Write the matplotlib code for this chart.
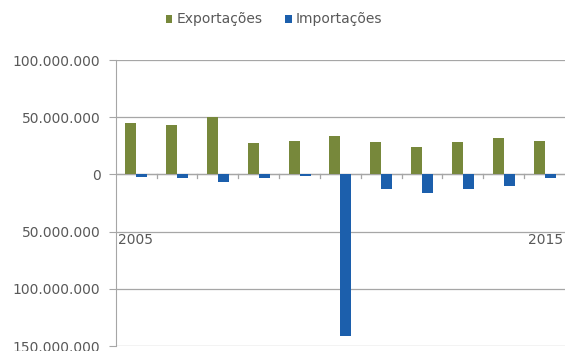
import numpy as np
import matplotlib.pyplot as plt
from matplotlib.ticker import FuncFormatter, MultipleLocator

anos = list(range(2005, 2016))
exportacoes = [45.0e6, 43.6e6, 50.3e6, 27.3e6, 28.8e6, 33.9e6, 28.6e6, 24.2e6, 28.2e6, 31.7e6, 29.5e6]
importacoes = [-2.5e6, -3.5e6, -6.5e6, -3.5e6, -1.2e6, -141.6e6, -13.0e6, -16.0e6, -12.5e6, -10.5e6, -3.5e6]

verde = '#77883b'
azul = '#1c5fac'
cinza = '#595959'
linha = '#a6a6a6'

plt.rcParams['font.family'] = ['DejaVu Sans']

fig = plt.figure(figsize=(5.65, 3.51), dpi=100)
ax = fig.add_axes([0.205, 0.014, 0.795, 0.815])

x = np.arange(len(anos))
w = 0.27
ax.bar(x - w / 2, exportacoes, width=w, color=verde, label='Exportações', zorder=3)
ax.bar(x + w / 2, importacoes, width=w, color=azul, label='Importações', zorder=3)

ax.set_xlim(-0.5, len(anos) - 0.5)
ax.set_ylim(-150e6, 100e6)
ax.yaxis.set_major_locator(MultipleLocator(50e6))
ax.yaxis.set_major_formatter(FuncFormatter(
    lambda v, p: '{:,.0f}'.format(abs(v)).replace(',', '.')))
ax.grid(axis='y', color=linha, linewidth=0.9, zorder=0)

for s in ['top', 'right', 'bottom']:
    ax.spines[s].set_visible(False)
ax.spines['left'].set_color(linha)
ax.tick_params(axis='y', colors=cinza, labelsize=10, length=5, color=linha, pad=6)

# eixo das categorias sobre o zero
ax.axhline(0, color=linha, linewidth=0.9, zorder=2)
ax.set_xticks([])
for b in np.arange(0.5, len(anos) - 0.5, 1):
    ax.plot([b, b], [0, -3.5e6], color=linha, linewidth=0.9, zorder=2)

ax.text(-0.45, -51e6, str(anos[0]), ha='left', va='top', color=cinza, fontsize=10)
ax.text(len(anos) - 0.55, -51e6, str(anos[-1]), ha='right', va='top', color=cinza, fontsize=10)

leg = fig.legend(loc='upper center', bbox_to_anchor=(0.485, 1.0), ncol=2, frameon=False,
                 fontsize=10, handlelength=0.5, handleheight=0.5, handletextpad=0.3,
                 columnspacing=1.6)
for t in leg.get_texts():
    t.set_color(cinza)

fig.savefig('out.png', dpi=100)
